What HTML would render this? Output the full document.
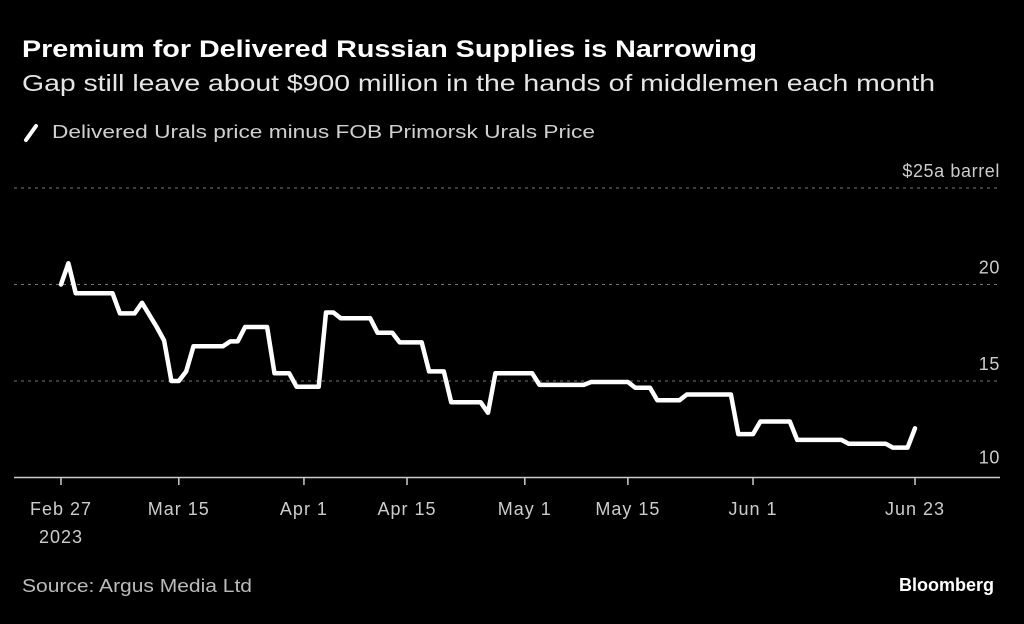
<!DOCTYPE html>
<html><head><meta charset="utf-8"><style>
body{margin:0;background:#000;}
svg text{font-family:"Liberation Sans",sans-serif;}
</style></head><body>
<svg width="1024" height="619" viewBox="0 0 1024 619" xmlns="http://www.w3.org/2000/svg">
<rect width="1024" height="619" fill="#000"/>
<text x="22" y="57" fill="#fff" font-size="24" font-weight="bold" textLength="735" lengthAdjust="spacingAndGlyphs">Premium for Delivered Russian Supplies is Narrowing</text>
<text x="22" y="91" fill="#e6e6e6" font-size="23" textLength="913" lengthAdjust="spacingAndGlyphs">Gap still leave about $900 million in the hands of middlemen each month</text>
<g>
<line x1="26" y1="140" x2="36" y2="126" stroke="#fff" stroke-width="4" stroke-linecap="round"/>
<text x="52" y="138" fill="#d0d0d0" font-size="18" textLength="543" lengthAdjust="spacingAndGlyphs">Delivered Urals price minus FOB Primorsk Urals Price</text>
</g>
<g id="grid"></g>
<g id="yticks"></g>
<g id="xticks"></g>
<path id="line" fill="none" stroke="#fff" stroke-width="4.5" stroke-linejoin="round" stroke-linecap="round"/>
<text x="22" y="592" fill="#bbb" font-size="18" textLength="230" lengthAdjust="spacingAndGlyphs">Source: Argus Media Ltd</text>
<text x="994" y="591" fill="#fff" font-size="18" font-weight="bold" text-anchor="end">Bloomberg</text>
</svg>
<script>
const days=[0,1,2,7,8,10,11,13,14,15,16,17,18,22,23,24,25,28,29,31,32,35,36,37,38,42,43,45,46,49,50,52,53,57,58,59,64,65,71,72,77,78,80,81,84,85,91,92,94,95,99,100,106,107,112,113,115,116];
const values=[20.0,21.1,19.55,19.55,18.5,18.5,19.05,17.8,17.1,15.0,15.0,15.5,16.8,16.8,17.05,17.05,17.8,17.8,15.4,15.4,14.7,14.7,18.55,18.55,18.25,18.25,17.5,17.5,17.0,17.0,15.5,15.5,13.9,13.9,13.35,15.4,15.4,14.8,14.8,14.95,14.95,14.65,14.65,14.0,14.0,14.3,14.3,12.25,12.25,12.9,12.9,11.95,11.95,11.75,11.75,11.55,11.55,12.55];
const yTicks=[10,15,20,25];
const yTickLabels=["10","15","20","$25a barrel"];
const xTickDays=[0,16,33,47,63,77,94,116];
const xTickLabels=["Feb 27","Mar 15","Apr 1","Apr 15","May 1","May 15","Jun 1","Jun 23"];
const NS="http://www.w3.org/2000/svg";
const x=d=>61+d*(915-61)/116;
const y=v=>477.5-(v-10)*19.3;
const grid=document.getElementById('grid'),yt=document.getElementById('yticks'),xt=document.getElementById('xticks');
yTicks.forEach((t,i)=>{
  const l=document.createElementNS(NS,'line');
  
  
  l.setAttribute('x1',14);l.setAttribute('x2',1000);l.setAttribute('y1',y(t));l.setAttribute('y2',y(t));
  if(i===0){l.setAttribute('stroke','#ccc');l.setAttribute('stroke-width','1.5');}
  else{l.setAttribute('stroke','#777');l.setAttribute('stroke-dasharray','3 4');}
  grid.appendChild(l);
  const tx=document.createElementNS(NS,'text');
  
  
  tx.setAttribute('x',1000);tx.setAttribute('y',i===0?y(t)-14:y(t)-11);
  tx.setAttribute('text-anchor','end');tx.setAttribute('fill','#ccc');tx.setAttribute('font-size','18');
  tx.setAttribute('letter-spacing','0.6');
  tx.textContent=yTickLabels[i];yt.appendChild(tx);
});
xTickDays.forEach((d,i)=>{
  const l=document.createElementNS(NS,'line');
  
  
  l.setAttribute('x1',x(d));l.setAttribute('x2',x(d));l.setAttribute('y1',477);l.setAttribute('y2',485);
  l.setAttribute('stroke','#ccc');l.setAttribute('stroke-width','1.5');xt.appendChild(l);
  const tx=document.createElementNS(NS,'text');
  
  
  tx.setAttribute('x',x(d));tx.setAttribute('y',515);tx.setAttribute('text-anchor','middle');
  tx.setAttribute('fill','#ccc');tx.setAttribute('font-size','18');tx.setAttribute('letter-spacing','1');
  tx.textContent=xTickLabels[i];xt.appendChild(tx);
});
const yr=document.createElementNS(NS,'text');


yr.setAttribute('x',x(0));yr.setAttribute('y',543);yr.setAttribute('text-anchor','middle');
yr.setAttribute('fill','#ccc');yr.setAttribute('font-size','18');yr.setAttribute('letter-spacing','1');
yr.textContent='2023';xt.appendChild(yr);
document.getElementById('line').setAttribute('d',days.map((d,i)=>(i?'L':'M')+x(d).toFixed(1)+','+y(values[i]).toFixed(1)).join(''));
</script>
</body></html>
